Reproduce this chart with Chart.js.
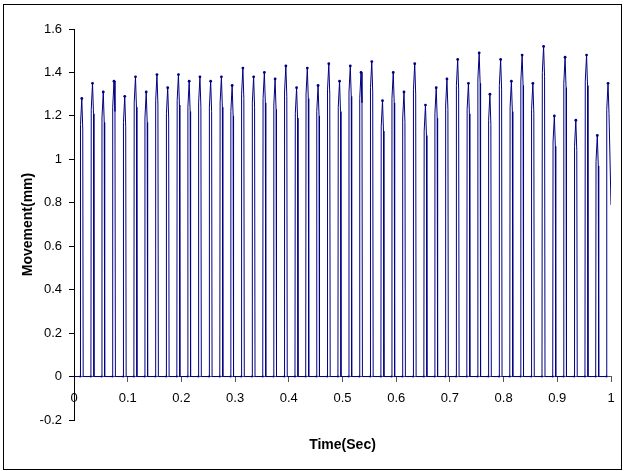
<!DOCTYPE html>
<html>
<head>
<meta charset="utf-8">
<script src="https://cdn.jsdelivr.net/npm/chart.js@4.4.1/dist/chart.umd.min.js"></script>
<style>
  html, body { margin: 0; padding: 0; background: #fff; }
  #wrap { width: 626px; height: 471px; }
</style>
</head>
<body>
<div id="wrap"><canvas id="movement-chart" width="626" height="471"></canvas></div>
<script>
// Movement vs time, one row per pulse (start, rise shoulder, peak, fall shoulder, end)
const time = [0,
  0.0115, 0.0121, 0.0145, 0.0163, 0.0171,
  0.0315, 0.0321, 0.0345, 0.0363, 0.0371,
  0.0515, 0.0521, 0.0545, 0.0563, 0.0571,
  0.0715, 0.0721, 0.0745, 0.0763, 0.0771,
  0.0915, 0.0921, 0.0945, 0.0963, 0.0971,
  0.1115, 0.1121, 0.1145, 0.1163, 0.1171,
  0.1315, 0.1321, 0.1345, 0.1363, 0.1371,
  0.1515, 0.1521, 0.1545, 0.1563, 0.1571,
  0.1715, 0.1721, 0.1745, 0.1763, 0.1771,
  0.1915, 0.1921, 0.1945, 0.1963, 0.1971,
  0.2115, 0.2121, 0.2145, 0.2163, 0.2171,
  0.2315, 0.2321, 0.2345, 0.2363, 0.2371,
  0.2515, 0.2521, 0.2545, 0.2563, 0.2571,
  0.2715, 0.2721, 0.2745, 0.2763, 0.2771,
  0.2915, 0.2921, 0.2945, 0.2963, 0.2971,
  0.3115, 0.3121, 0.3145, 0.3163, 0.3171,
  0.3315, 0.3321, 0.3345, 0.3363, 0.3371,
  0.3515, 0.3521, 0.3545, 0.3563, 0.3571,
  0.3715, 0.3721, 0.3745, 0.3763, 0.3771,
  0.3915, 0.3921, 0.3945, 0.3963, 0.3971,
  0.4115, 0.4121, 0.4145, 0.4163, 0.4171,
  0.4315, 0.4321, 0.4345, 0.4363, 0.4371,
  0.4515, 0.4521, 0.4545, 0.4563, 0.4571,
  0.4715, 0.4721, 0.4745, 0.4763, 0.4771,
  0.4915, 0.4921, 0.4945, 0.4963, 0.4971,
  0.5115, 0.5121, 0.5145, 0.5163, 0.5171,
  0.5315, 0.5321, 0.5345, 0.5363, 0.5371,
  0.5515, 0.5521, 0.5545, 0.5563, 0.5571,
  0.5715, 0.5721, 0.5745, 0.5763, 0.5771,
  0.5915, 0.5921, 0.5945, 0.5963, 0.5971,
  0.6115, 0.6121, 0.6145, 0.6163, 0.6171,
  0.6315, 0.6321, 0.6345, 0.6363, 0.6371,
  0.6515, 0.6521, 0.6545, 0.6563, 0.6571,
  0.6715, 0.6721, 0.6745, 0.6763, 0.6771,
  0.6915, 0.6921, 0.6945, 0.6963, 0.6971,
  0.7115, 0.7121, 0.7145, 0.7163, 0.7171,
  0.7315, 0.7321, 0.7345, 0.7363, 0.7371,
  0.7515, 0.7521, 0.7545, 0.7563, 0.7571,
  0.7715, 0.7721, 0.7745, 0.7763, 0.7771,
  0.7915, 0.7921, 0.7945, 0.7963, 0.7971,
  0.8115, 0.8121, 0.8145, 0.8163, 0.8171,
  0.8315, 0.8321, 0.8345, 0.8363, 0.8371,
  0.8515, 0.8521, 0.8545, 0.8563, 0.8571,
  0.8715, 0.8721, 0.8745, 0.8763, 0.8771,
  0.8915, 0.8921, 0.8945, 0.8963, 0.8971,
  0.9115, 0.9121, 0.9145, 0.9163, 0.9171,
  0.9315, 0.9321, 0.9345, 0.9363, 0.9371,
  0.9515, 0.9521, 0.9545, 0.9563, 0.9571,
  0.9715, 0.9721, 0.9745, 0.9763, 0.9771,
  0.9915, 0.9921, 0.9945, 0.9963, 1.0
];
const movement = [0,
  0, 1.16, 1.28, 1.14, 0,
  0, 1.23, 1.35, 1.21, 0,
  0, 1.19, 1.31, 1.17, 0,
  0, 1.24, 1.36, 1.22, 0,
  0, 1.17, 1.29, 1.15, 0,
  0, 1.26, 1.38, 1.24, 0,
  0, 1.19, 1.31, 1.17, 0,
  0, 1.27, 1.39, 1.25, 0,
  0, 1.21, 1.33, 1.19, 0,
  0, 1.27, 1.39, 1.25, 0,
  0, 1.24, 1.36, 1.22, 0,
  0, 1.26, 1.38, 1.24, 0,
  0, 1.24, 1.36, 1.22, 0,
  0, 1.26, 1.38, 1.24, 0,
  0, 1.22, 1.34, 1.20, 0,
  0, 1.30, 1.42, 1.28, 0,
  0, 1.26, 1.38, 1.24, 0,
  0, 1.28, 1.40, 1.26, 0,
  0, 1.25, 1.37, 1.23, 0,
  0, 1.31, 1.43, 1.29, 0,
  0, 1.21, 1.33, 1.19, 0,
  0, 1.30, 1.42, 1.28, 0,
  0, 1.22, 1.34, 1.20, 0,
  0, 1.32, 1.44, 1.30, 0,
  0, 1.24, 1.36, 1.22, 0,
  0, 1.31, 1.43, 1.29, 0,
  0, 1.28, 1.40, 1.26, 0,
  0, 1.33, 1.45, 1.31, 0,
  0, 1.15, 1.27, 1.13, 0,
  0, 1.28, 1.40, 1.26, 0,
  0, 1.19, 1.31, 1.17, 0,
  0, 1.32, 1.44, 1.30, 0,
  0, 1.13, 1.25, 1.11, 0,
  0, 1.21, 1.33, 1.19, 0,
  0, 1.25, 1.37, 1.23, 0,
  0, 1.34, 1.46, 1.32, 0,
  0, 1.23, 1.35, 1.21, 0,
  0, 1.37, 1.49, 1.35, 0,
  0, 1.18, 1.30, 1.16, 0,
  0, 1.34, 1.46, 1.32, 0,
  0, 1.24, 1.36, 1.22, 0,
  0, 1.36, 1.48, 1.34, 0,
  0, 1.23, 1.35, 1.21, 0,
  0, 1.40, 1.52, 1.38, 0,
  0, 1.08, 1.20, 1.06, 0,
  0, 1.35, 1.47, 1.33, 0,
  0, 1.06, 1.18, 1.04, 0,
  0, 1.36, 1.48, 1.34, 0,
  0, 0.99, 1.11, 0.97, 0,
  0, 1.23, 1.35, 1.21, 0.79
];

const xTickValues = [0, 0.1, 0.2, 0.3, 0.4, 0.5, 0.6, 0.7, 0.8, 0.9, 1];
const xTickLabels = ["0", "0.1", "0.2", "0.3", "0.4", "0.5", "0.6", "0.7", "0.8", "0.9", "1"];
const yTickValues = [-0.2, 0, 0.2, 0.4, 0.6, 0.8, 1, 1.2, 1.4, 1.6];
const yTickLabels = ["-0.2", "0", "0.2", "0.4", "0.6", "0.8", "1", "1.2", "1.4", "1.6"];

const points = time.map((t, i) => ({ x: t, y: movement[i] }));

const font = "'Liberation Sans', Arial, sans-serif";

// outer frame round the whole chart
const frame = {
  id: 'frame',
  afterDraw(chart) {
    const c = chart.ctx;
    c.save();
    c.strokeStyle = '#000';
    c.lineWidth = 1;
    c.strokeRect(3.5, 4.5, 618, 465);
    c.restore();
  }
};

new Chart(document.getElementById("movement-chart"), {
  type: 'line',
  data: {
    datasets: [{
      label: "Movement",
      data: points,
      borderColor: "#000080",
      backgroundColor: "#000080",
      borderWidth: 1,
      fill: false,
      tension: 0,
      pointRadius: c => {
        if (c.dataIndex === 0) return 0;
        const k = (c.dataIndex - 1) % 5;
        return k === 2 ? 1.4 : (k === 0 ? 1 : 0);
      },
      pointBorderWidth: 0
    }]
  },
  options: {
    responsive: false,
    animation: false,
    layout: { padding: { top: 29, right: 15, left: 0, bottom: 0 } },
    plugins: { legend: { display: false }, tooltip: { enabled: false } },
    scales: {
      x: {
        type: 'linear',
        position: { y: 0 },
        min: 0,
        max: 1,
        afterBuildTicks: s => { s.ticks = xTickValues.map(v => ({ value: v })); },
        ticks: {
          callback: (v, i) => xTickLabels[i],
          color: '#000',
          font: { family: font, size: 13 },
          padding: 9,
          maxRotation: 0
        },
        grid: { drawOnChartArea: false, drawTicks: true, tickLength: 5, tickColor: '#555' },
        border: { color: '#555', width: 1 }
      },
      x2: {
        type: 'linear',
        position: 'bottom',
        axis: 'x',
        min: 0,
        max: 1,
        afterFit: s => { s.height = 51; },
        ticks: { display: false },
        grid: { display: false },
        border: { display: false },
        title: {
          display: true,
          text: 'Time(Sec)',
          color: '#000',
          font: { family: font, size: 14, weight: 'bold' },
          padding: { top: 0, bottom: 17 }
        }
      },
      y: {
        type: 'linear',
        position: 'left',
        min: -0.2,
        max: 1.6,
        afterFit: s => { s.width = 74; },
        afterBuildTicks: s => { s.ticks = yTickValues.map(v => ({ value: v })); },
        ticks: {
          callback: (v, i) => yTickLabels[i],
          color: '#000',
          font: { family: font, size: 13 },
          padding: 7
        },
        grid: { drawOnChartArea: false, drawTicks: true, tickLength: 5, tickColor: '#000' },
        border: { color: '#000', width: 1 },
        title: {
          display: true,
          text: 'Movement(mm)',
          color: '#000',
          font: { family: font, size: 14, weight: 'bold' },
          padding: { top: 20, bottom: 0 }
        }
      }
    }
  },
  plugins: [frame]
});
</script>
</body>
</html>
